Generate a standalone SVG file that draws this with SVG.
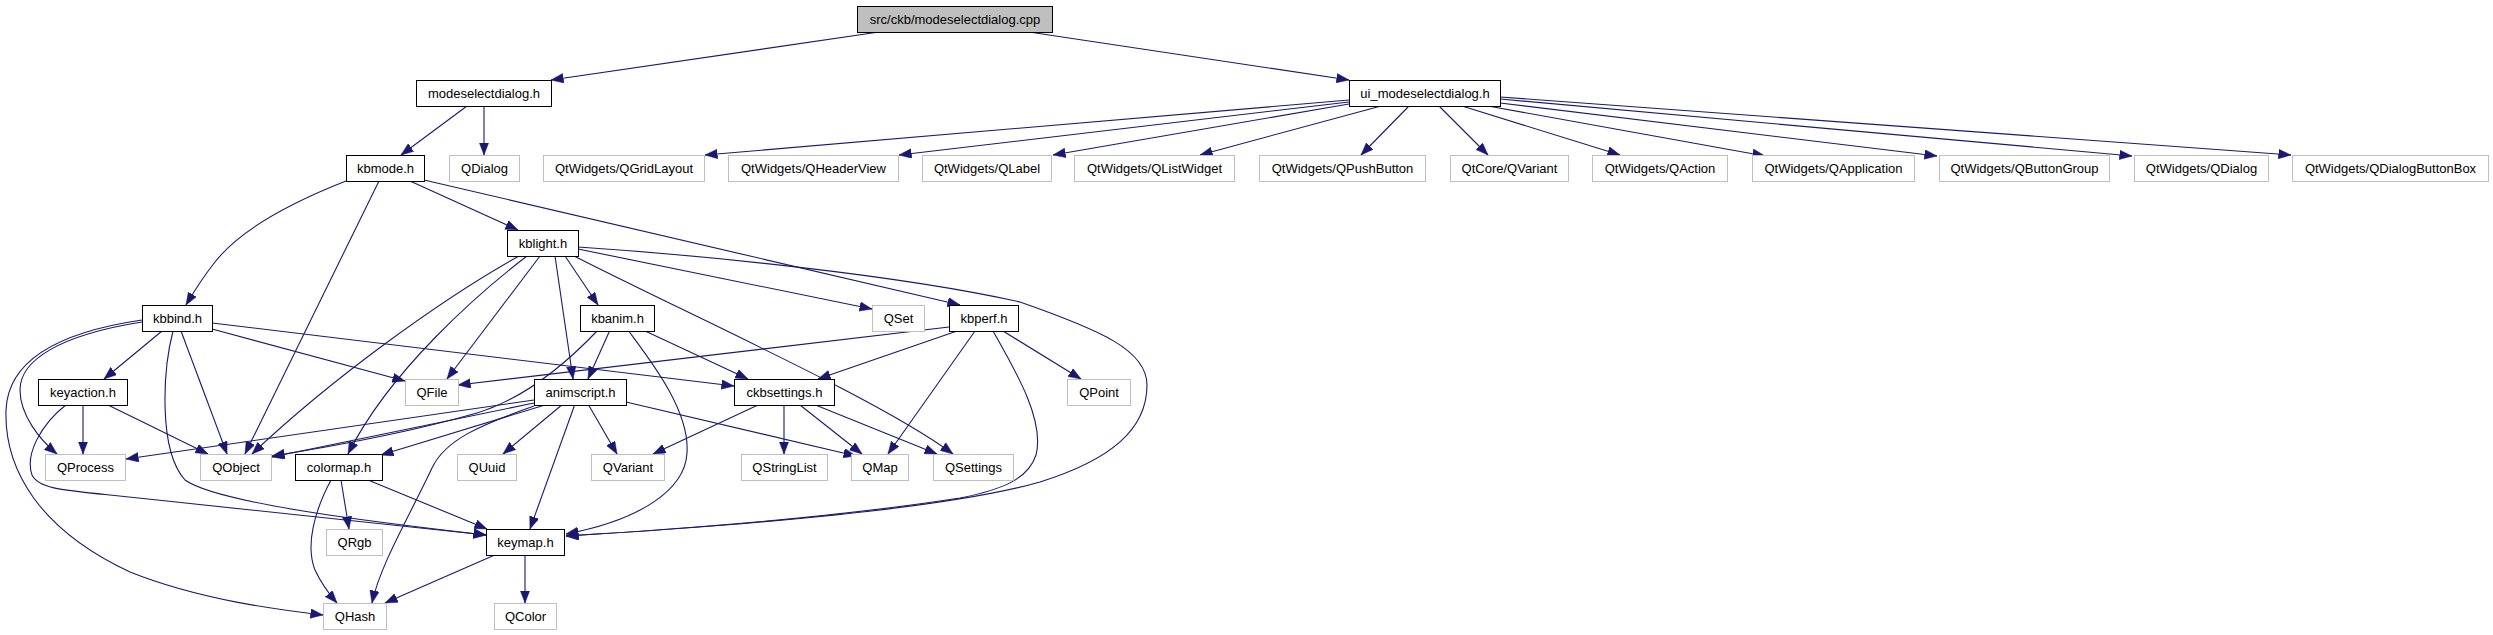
<svg xmlns="http://www.w3.org/2000/svg" width="2493" height="635" viewBox="0 0 2493 635">
<style>
text{font-family:"Liberation Sans",Arial,Helvetica,sans-serif;font-size:13px;text-anchor:middle;fill:#000}
.n rect{fill:#fff;stroke:#000;stroke-width:1}
.x rect{fill:#fff;stroke:#bfbfbf;stroke-width:1}
.r rect{fill:#bfbfbf;stroke:#000;stroke-width:1}
#edges path{fill:none;stroke:#191970;stroke-width:1.1;marker-end:url(#a)}
</style>
<defs>
<marker id="a" markerUnits="userSpaceOnUse" markerWidth="13" markerHeight="10" refX="12.5" refY="4.75" orient="auto">
<path d="M0,0 L12.5,4.75 L0,9.5 z" fill="#191970" stroke="#191970" stroke-width="0.5"/>
</marker>
</defs>
<rect width="2493" height="635" fill="#fff"/>
<g id="edges">
<path d="M879,32 L551,80"/>
<path d="M1029,32 L1349,80"/>
<path d="M467,106 L401,155"/>
<path d="M484,106 L484,155"/>
<path d="M1349,100 L705,155"/>
<path d="M1349,102 L899,155"/>
<path d="M1349,104 L1053,155"/>
<path d="M1381,106 L1200,155"/>
<path d="M1409,106 L1361,155"/>
<path d="M1439,106 L1488,155"/>
<path d="M1462,106 L1620,155"/>
<path d="M1488,106 L1765,156"/>
<path d="M1500,103 L1937,156"/>
<path d="M1500,99 L2132,156"/>
<path d="M1500,97 L2291,155"/>
<path d="M346,181 C290,203 240,230 215,262 C200,281 192,295 186,305"/>
<path d="M379,181 L245,454"/>
<path d="M410,181 L518,230"/>
<path d="M424,180 L960,305"/>
<path d="M519,256 C440,300 330,380 252,454"/>
<path d="M527,256 C480,292 390,370 348,454"/>
<path d="M540,256 L447,379"/>
<path d="M555,256 L573,379"/>
<path d="M565,256 L598,305"/>
<path d="M578,249 L872,309"/>
<path d="M574,256 C700,320 880,400 953,454"/>
<path d="M578,247 C700,255 900,275 1020,302 C1100,330 1147,350 1147,385 C1147,430 1110,460 1040,482 C960,505 800,522 566,536"/>
<path d="M162,331 L104,379"/>
<path d="M181,331 L227,454"/>
<path d="M173,331 C163,370 158,450 185,480 C220,505 400,525 486,535"/>
<path d="M212,329 L405,381"/>
<path d="M212,323 L734,386"/>
<path d="M142,322 C60,335 20,360 20,390 C20,415 40,440 57,454"/>
<path d="M142,320 C60,332 8,360 6,410 C4,470 40,530 130,572 C200,600 280,610 323,615"/>
<path d="M83,404 L83,454"/>
<path d="M106,404 L208,454"/>
<path d="M67,404 C40,425 25,455 32,475 C38,488 60,490 110,495 C250,510 400,525 486,535"/>
<path d="M534,400 L126,459"/>
<path d="M534,403 L272,457"/>
<path d="M598,330 C560,370 520,400 477,413 C400,435 310,450 272,456"/>
<path d="M545,405 L381,455"/>
<path d="M563,404 L503,454"/>
<path d="M588,404 L617,454"/>
<path d="M575,404 L530,529"/>
<path d="M626,402 L856,456"/>
<path d="M534,406 C480,425 445,440 432,468 C410,515 380,565 372,603"/>
<path d="M758,405 L653,454"/>
<path d="M784,405 L784,454"/>
<path d="M800,405 L862,454"/>
<path d="M813,404 L937,454"/>
<path d="M949,327 L458,385"/>
<path d="M960,330 L818,379"/>
<path d="M975,331 L888,454"/>
<path d="M1003,331 L1081,379"/>
<path d="M993,331 C1015,370 1045,420 1036,455 C1028,480 1000,490 960,498 C850,515 700,528 566,536"/>
<path d="M610,330 L588,379"/>
<path d="M643,330 L748,379"/>
<path d="M628,330 C650,360 690,410 687,453 C685,490 640,520 566,534"/>
<path d="M341,480 L349,529"/>
<path d="M331,480 C315,510 305,545 315,570 C322,585 330,595 337,603"/>
<path d="M368,480 L487,529"/>
<path d="M497,554 L385,603"/>
<path d="M525,554 L525,603"/>
</g>
<g id="node-root" class="r"><rect x="857.5" y="6.5" width="195" height="26"/><text x="955" y="24">src/ckb/modeselectdialog.cpp</text></g>
<g id="node-modeselectdialog_h" class="n"><rect x="416.5" y="80.5" width="135" height="26"/><text x="484" y="98">modeselectdialog.h</text></g>
<g id="node-ui_modeselectdialog_h" class="n"><rect x="1349.5" y="80.5" width="151" height="26"/><text x="1425" y="98">ui_modeselectdialog.h</text></g>
<g id="node-kbmode_h" class="n"><rect x="346.5" y="155.5" width="78" height="26"/><text x="385.5" y="173">kbmode.h</text></g>
<g id="node-QDialog" class="x"><rect x="449.5" y="155.5" width="70" height="26"/><text x="484.5" y="173">QDialog</text></g>
<g id="node-QGridLayout" class="x"><rect x="543.5" y="155.5" width="161" height="26"/><text x="624" y="173">QtWidgets/QGridLayout</text></g>
<g id="node-QHeaderView" class="x"><rect x="728.5" y="155.5" width="170" height="26"/><text x="813.5" y="173">QtWidgets/QHeaderView</text></g>
<g id="node-QLabel" class="x"><rect x="922.5" y="155.5" width="129" height="26"/><text x="987" y="173">QtWidgets/QLabel</text></g>
<g id="node-QListWidget" class="x"><rect x="1074.5" y="155.5" width="160" height="26"/><text x="1154.5" y="173">QtWidgets/QListWidget</text></g>
<g id="node-QPushButton" class="x"><rect x="1259.5" y="155.5" width="166" height="26"/><text x="1342.5" y="173">QtWidgets/QPushButton</text></g>
<g id="node-QtCore_QVariant" class="x"><rect x="1450.5" y="155.5" width="118" height="26"/><text x="1509.5" y="173">QtCore/QVariant</text></g>
<g id="node-QAction" class="x"><rect x="1592.5" y="155.5" width="135" height="26"/><text x="1660" y="173">QtWidgets/QAction</text></g>
<g id="node-QApplication" class="x"><rect x="1752.5" y="155.5" width="162" height="26"/><text x="1833.5" y="173">QtWidgets/QApplication</text></g>
<g id="node-QButtonGroup" class="x"><rect x="1939.5" y="155.5" width="170" height="26"/><text x="2024.5" y="173">QtWidgets/QButtonGroup</text></g>
<g id="node-QtWidgets_QDialog" class="x"><rect x="2134.5" y="155.5" width="134" height="26"/><text x="2201.5" y="173">QtWidgets/QDialog</text></g>
<g id="node-QDialogButtonBox" class="x"><rect x="2292.5" y="155.5" width="196" height="26"/><text x="2390.5" y="173">QtWidgets/QDialogButtonBox</text></g>
<g id="node-kblight_h" class="n"><rect x="507.5" y="230.5" width="71" height="26"/><text x="543" y="248">kblight.h</text></g>
<g id="node-kbbind_h" class="n"><rect x="142.5" y="305.5" width="70" height="26"/><text x="177.5" y="323">kbbind.h</text></g>
<g id="node-kbanim_h" class="n"><rect x="580.5" y="305.5" width="74" height="26"/><text x="617.5" y="323">kbanim.h</text></g>
<g id="node-QSet" class="x"><rect x="872.5" y="305.5" width="52" height="26"/><text x="898.5" y="323">QSet</text></g>
<g id="node-kbperf_h" class="n"><rect x="949.5" y="305.5" width="69" height="26"/><text x="984" y="323">kbperf.h</text></g>
<g id="node-keyaction_h" class="n"><rect x="38.5" y="379.5" width="89" height="26"/><text x="83" y="397">keyaction.h</text></g>
<g id="node-QFile" class="x"><rect x="405.5" y="379.5" width="53" height="26"/><text x="432" y="397">QFile</text></g>
<g id="node-animscript_h" class="n"><rect x="534.5" y="379.5" width="92" height="26"/><text x="580.5" y="397">animscript.h</text></g>
<g id="node-ckbsettings_h" class="n"><rect x="734.5" y="379.5" width="100" height="26"/><text x="784.5" y="397">ckbsettings.h</text></g>
<g id="node-QPoint" class="x"><rect x="1067.5" y="379.5" width="63" height="26"/><text x="1099" y="397">QPoint</text></g>
<g id="node-QProcess" class="x"><rect x="45.5" y="454.5" width="80" height="26"/><text x="85.5" y="472">QProcess</text></g>
<g id="node-QObject" class="x"><rect x="200.5" y="454.5" width="71" height="26"/><text x="236" y="472">QObject</text></g>
<g id="node-colormap_h" class="n"><rect x="295.5" y="454.5" width="87" height="26"/><text x="339" y="472">colormap.h</text></g>
<g id="node-QUuid" class="x"><rect x="457.5" y="454.5" width="59" height="26"/><text x="487" y="472">QUuid</text></g>
<g id="node-QVariant" class="x"><rect x="591.5" y="454.5" width="73" height="26"/><text x="628" y="472">QVariant</text></g>
<g id="node-QStringList" class="x"><rect x="741.5" y="454.5" width="86" height="26"/><text x="784.5" y="472">QStringList</text></g>
<g id="node-QMap" class="x"><rect x="851.5" y="454.5" width="57" height="26"/><text x="880" y="472">QMap</text></g>
<g id="node-QSettings" class="x"><rect x="933.5" y="454.5" width="80" height="26"/><text x="973.5" y="472">QSettings</text></g>
<g id="node-QRgb" class="x"><rect x="326.5" y="529.5" width="56" height="26"/><text x="354.5" y="547">QRgb</text></g>
<g id="node-keymap_h" class="n"><rect x="486.5" y="529.5" width="78" height="26"/><text x="525.5" y="547">keymap.h</text></g>
<g id="node-QHash" class="x"><rect x="323.5" y="603.5" width="63" height="26"/><text x="355" y="621">QHash</text></g>
<g id="node-QColor" class="x"><rect x="494.5" y="603.5" width="62" height="26"/><text x="525.5" y="621">QColor</text></g>
</svg>
